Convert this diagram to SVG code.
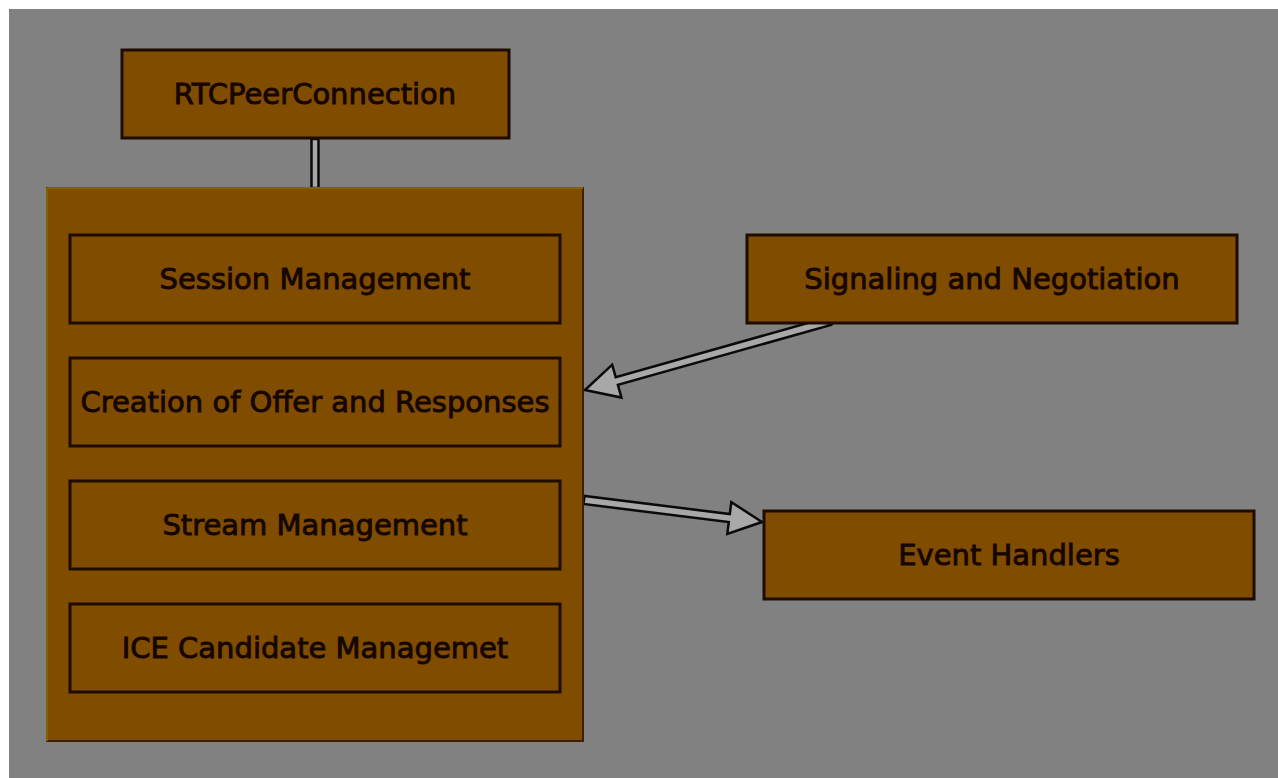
<svg xmlns="http://www.w3.org/2000/svg" width="1278" height="778" viewBox="0 0 1278 778">
<style>
.box{fill:#7f4c00;stroke:#1e0c00;stroke-width:3}
.lbl{font-family:"DejaVu Sans",sans-serif;font-size:29px;fill:#160600;text-anchor:middle;stroke:#160600;stroke-width:0.9}
.arr{fill:#a8a8a8;stroke:#0a0a0a;stroke-width:2.5;stroke-linejoin:miter}
</style>
<rect x="0" y="0" width="1278" height="778" fill="#ffffff"/>
<rect x="9" y="9" width="1269" height="769" fill="#818181"/>
<g id="connectors">
<rect x="311.5" y="139" width="7" height="49" class="arr"/>
<polygon class="arr" points="585,390 612.2,364.7 615.7,377.2 828.9,317.1 831.1,324.9 617.9,384.9 621.4,397.5"/>
<circle cx="830" cy="321" r="4.5" fill="#0a0a0a"/>
<polygon class="arr" points="762,522 731.3,502.1 729.8,514 584.5,496 583.5,504 728.8,522 727.3,533.9"/>
</g>
<g id="rtcpeerconnection">
<rect class="box" x="122" y="50" width="387" height="88"/>
<text class="lbl" x="315" y="104">RTCPeerConnection</text>
</g>
<g id="container">
<rect x="47" y="188" width="536" height="553" fill="#7f4c00" stroke="#3d2000" stroke-width="2"/>
<line x1="47" y1="188" x2="583" y2="188" stroke="#7d6400" stroke-width="2"/>
<line x1="47" y1="188" x2="47" y2="741" stroke="#7d6400" stroke-width="2"/>
</g>
<g id="session">
<rect class="box" x="70" y="235" width="490" height="88"/>
<text class="lbl" x="315" y="289">Session Management</text>
</g>
<g id="offer">
<rect class="box" x="70" y="358" width="490" height="88"/>
<text class="lbl" x="315" y="412">Creation of Offer and Responses</text>
</g>
<g id="stream">
<rect class="box" x="70" y="481" width="490" height="88"/>
<text class="lbl" x="315" y="535">Stream Management</text>
</g>
<g id="ice">
<rect class="box" x="70" y="604" width="490" height="88"/>
<text class="lbl" x="315" y="658">ICE Candidate Managemet</text>
</g>
<g id="signaling">
<rect class="box" x="747" y="235" width="490" height="88"/>
<text class="lbl" x="992" y="289">Signaling and Negotiation</text>
</g>
<g id="events">
<rect class="box" x="764" y="511" width="490" height="88"/>
<text class="lbl" x="1009" y="565">Event Handlers</text>
</g>
</svg>
